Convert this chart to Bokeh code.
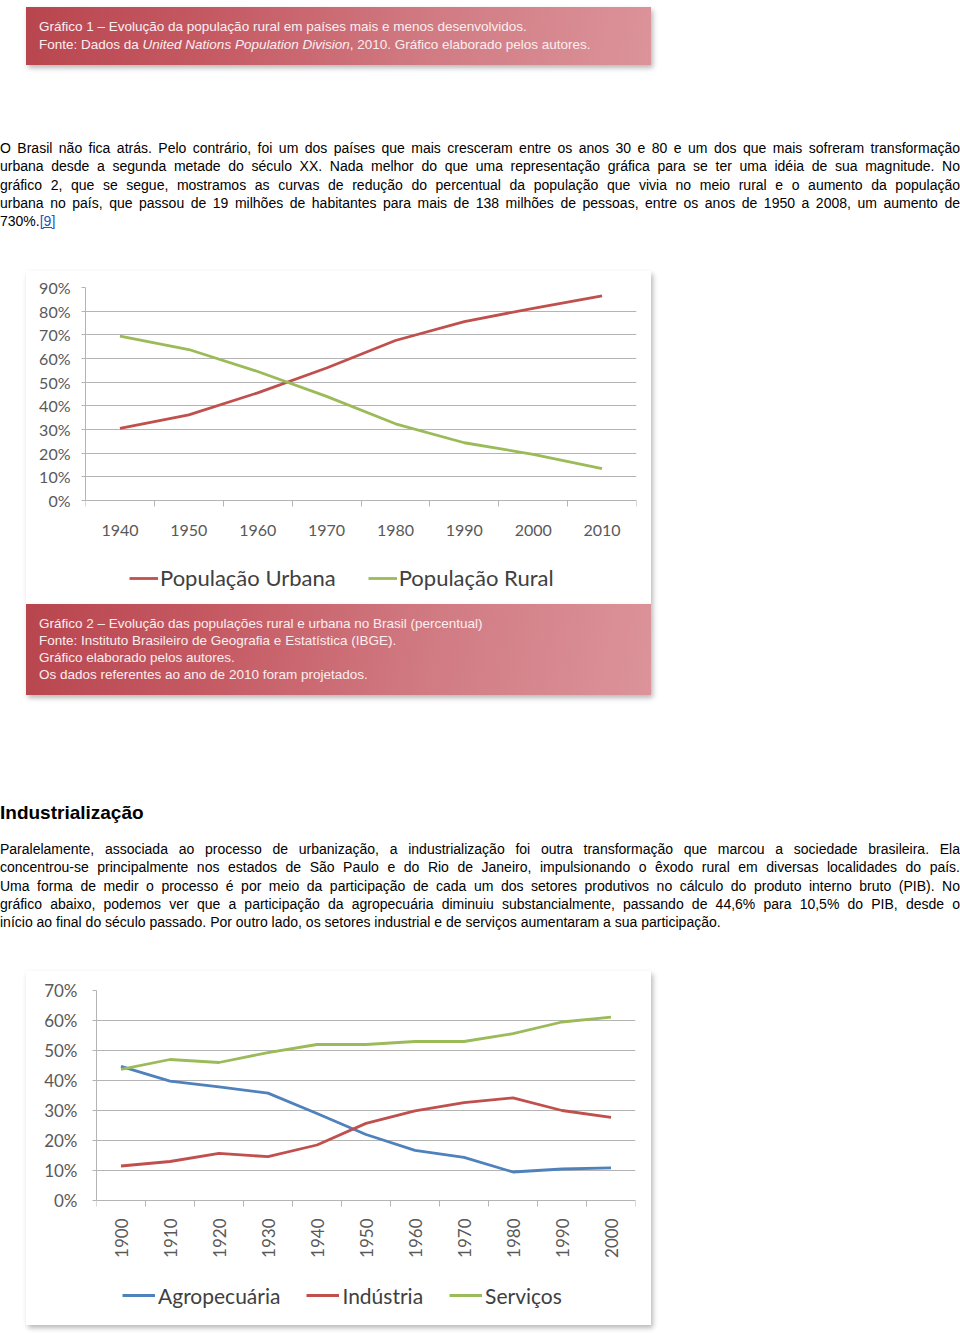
from bokeh.plotting import figure
from bokeh.models import Div, Range1d, FixedTicker, PrintfTickFormatter, Legend, LegendItem, Row
from bokeh.core.properties import value
from bokeh.layouts import column
from bokeh.embed import file_html
from bokeh.resources import INLINE
import math

# ---------------- data ----------------
years_pop = [1940, 1950, 1960, 1970, 1980, 1990, 2000, 2010]
pop_urbana = [30.5, 36.2, 45.5, 56.0, 67.6, 75.6, 81.2, 86.5]
pop_rural = [69.5, 63.8, 54.5, 44.0, 32.4, 24.4, 19.5, 13.5]
pop_ticks = [0, 10, 20, 30, 40, 50, 60, 70, 80, 90]

years_pib = [1900, 1910, 1920, 1930, 1940, 1950, 1960, 1970, 1980, 1990, 2000]
agropecuaria = [44.7, 39.8, 37.9, 35.8, 29.0, 22.0, 16.7, 14.4, 9.5, 10.5, 10.9]
industria = [11.5, 13.0, 15.7, 14.6, 18.5, 25.7, 29.9, 32.6, 34.2, 30.0, 27.7]
servicos = [43.7, 47.0, 46.0, 49.3, 52.0, 52.0, 53.0, 53.0, 55.6, 59.5, 61.1]
pib_ticks = [0, 10, 20, 30, 40, 50, 60, 70]

caption1 = ["Gráfico 1 – Evolução da população rural em países mais e menos desenvolvidos.",
            "Fonte: Dados da <i>United Nations Population Division</i>, 2010. Gráfico elaborado pelos autores."]
para1 = ["O Brasil não fica atrás. Pelo contrário, foi um dos países que mais cresceram entre os anos 30 e 80 e um dos que mais sofreram transformação",
         "urbana desde a segunda metade do século XX. Nada melhor do que uma representação gráfica para se ter uma idéia de sua magnitude. No",
         "gráfico 2, que se segue, mostramos as curvas de redução do percentual da população que vivia no meio rural e o aumento da população",
         "urbana no país, que passou de 19 milhões de habitantes para mais de 138 milhões de pessoas, entre os anos de 1950 a 2008, um aumento de",
         "730%.<a href='#' style='color:#2255bb;text-decoration:underline'>[9]</a>"]
caption2 = ["Gráfico 2 – Evolução das populações rural e urbana no Brasil (percentual)",
            "Fonte: Instituto Brasileiro de Geografia e Estatística (IBGE).",
            "Gráfico elaborado pelos autores.",
            "Os dados referentes ao ano de 2010 foram projetados."]
heading = "Industrialização"
para2 = ["Paralelamente, associada ao processo de urbanização, a industrialização foi outra transformação que marcou a sociedade brasileira. Ela",
         "concentrou-se principalmente nos estados de São Paulo e do Rio de Janeiro, impulsionando o êxodo rural em diversas localidades do país.",
         "Uma forma de medir o processo é por meio da participação de cada um dos setores produtivos no cálculo do produto interno bruto (PIB). No",
         "gráfico abaixo, podemos ver que a participação da agropecuária diminuiu substancialmente, passando de 44,6% para 10,5% do PIB, desde o",
         "início ao final do século passado. Por outro lado, os setores industrial e de serviços aumentaram a sua participação."]

RED = "#c0504d"
GREEN = "#9bbb59"
BLUE = "#4f81bd"
GRID = "#b4b4b4"
LABEL = "#595959"
FONT = "Lato"
SHADOW = {"box-shadow": "2px 3px 5px rgba(0,0,0,0.28)"}

GRAD = "linear-gradient(100deg, #b8454e 0%, #c55a63 30%, #d17b83 65%, #dc939a 100%)"


def caption_div(lines, height, top, pad_top, lh):
    inner = "".join(f"<div style='height:{lh}px;line-height:{lh}px'>{t}</div>" for t in lines)
    html = (f"<div style='width:625px;height:{height}px;box-sizing:border-box;padding:{pad_top}px 0 0 13px;"
            f"background:{GRAD};color:#fbeef0;font-family:\"Liberation Sans\",Arial,sans-serif;font-size:13.5px;"
            f"box-shadow:2px 3px 5px rgba(0,0,0,0.28)'>{inner}</div>")
    return Div(text=html, width=625, height=height, margin=(top, 0, 0, 26))


def para_div(lines, top):
    parts = []
    for i, t in enumerate(lines):
        last = i == len(lines) - 1
        al = "text-align:left" if last else "text-align:justify;text-align-last:justify"
        parts.append(f"<div style='{al};height:18.25px;line-height:18.25px'>{t}</div>")
    html = (f"<div style='width:960px;font-family:\"Liberation Sans\",Arial,sans-serif;font-size:14px;color:#000'>"
            + "".join(parts) + "</div>")
    return Div(text=html, width=960, height=92, margin=(top, 0, 0, 0))


def base_fig(n, ymax, yticks, fw, fh, plot_h, bl, br, bt, bb, font_px, ystand):
    # frame extends below the 0 line to host the category labels and the legend
    ymin = -ymax * (fh - plot_h) / plot_h
    p = figure(frame_width=fw, frame_height=fh, output_backend="svg", toolbar_location=None,
               x_range=Range1d(0, n), y_range=Range1d(ymin, ymax),
               min_border_left=bl, min_border_right=br, min_border_top=bt, min_border_bottom=bb,
               background_fill_color="white", border_fill_color="white")
    p.outline_line_color = None
    p.styles = SHADOW
    p.xgrid.grid_line_color = None
    p.ygrid.grid_line_color = GRID
    p.ygrid.grid_line_width = 1
    p.yaxis.ticker = FixedTicker(ticks=yticks)
    p.yaxis.bounds = (0, ymax)
    p.yaxis.formatter = PrintfTickFormatter(format="%d%%")
    p.yaxis.axis_line_color = GRID
    p.yaxis.major_tick_line_color = GRID
    p.yaxis.major_tick_out = 4
    p.yaxis.major_tick_in = 0
    p.yaxis.minor_tick_line_color = None
    p.yaxis.major_label_standoff = ystand
    p.yaxis.major_label_text_font = FONT
    p.yaxis.major_label_text_font_size = font_px
    p.yaxis.major_label_text_color = LABEL
    centers = [i + 0.5 for i in range(n)]
    bounds = [i for i in range(n + 1)]
    p.xaxis.fixed_location = 0
    p.xaxis.ticker = FixedTicker(ticks=[], minor_ticks=bounds)
    p.xaxis.axis_line_color = GRID
    p.xaxis.major_tick_line_color = None
    p.xaxis.major_tick_out = 0
    p.xaxis.major_tick_in = 0
    p.xaxis.minor_tick_line_color = GRID
    p.xaxis.minor_tick_out = 6
    p.xaxis.minor_tick_in = 0
    p.xaxis.major_label_standoff = 0
    return p, centers


def make_legend(items, loc, spacing, size, gw, standoff):
    return Legend(items=items, location=loc, orientation="horizontal",
                  glyph_width=gw, glyph_height=26, label_height=26, label_standoff=standoff, spacing=spacing,
                  padding=0, margin=0, border_line_color=None, background_fill_alpha=0,
                  label_text_font=FONT, label_text_font_size=size, label_text_color="#404040")


# ---------------- chart 2 ----------------
p2, c2 = base_fig(len(years_pop), 90, pop_ticks, 551, 307, 213, 59, 15, 16, 10, "16px", 11)
p2.text(x=c2, y=[0] * len(years_pop), text=[str(y) for y in years_pop], y_offset=30,
        text_align="center", text_baseline="middle", text_font=value(FONT),
        text_font_size="16px", text_color=LABEL)
r_urb = p2.line(c2, pop_urbana, line_color=RED, line_width=2.8)
r_rur = p2.line(c2, pop_rural, line_color=GREEN, line_width=2.8)
p2.add_layout(make_legend([LegendItem(label="População Urbana", renderers=[r_urb]),
                           LegendItem(label="População Rural", renderers=[r_rur])],
                          (44, 3), 32, "22px", 29, 2), "center")

# ---------------- chart 3 ----------------
p3, c3 = base_fig(len(years_pib), 70, pib_ticks, 539, 325, 210, 70, 16, 19, 10, "17px", 15)
p3.text(x=c3, y=[0] * len(years_pib), text=[str(y) for y in years_pib], y_offset=18, angle=math.pi / 2,
        text_align="right", text_baseline="middle", text_font=value(FONT),
        text_font_size="17px", text_color=LABEL)
r_ag = p3.line(c3, agropecuaria, line_color=BLUE, line_width=2.8)
r_in = p3.line(c3, industria, line_color=RED, line_width=2.8)
r_se = p3.line(c3, servicos, line_color=GREEN, line_width=2.8)
p3.add_layout(make_legend([LegendItem(label="Agropecuária", renderers=[r_ag]),
                           LegendItem(label="Indústria", renderers=[r_in]),
                           LegendItem(label="Serviços", renderers=[r_se])],
                          (26, 7), 26, "21px", 33, 3), "center")

# each chart sits in its own row so that the column does not align the two frames
box2 = Row(children=[p2], margin=(40, 0, 0, 26))
box3 = Row(children=[p3], margin=(39, 0, 0, 26))

head = Div(text=f"<div style='font-family:\"Liberation Sans\",Arial,sans-serif;font-weight:bold;font-size:19px;"
                f"line-height:24px;height:24px;color:#000'>{heading}</div>",
           width=960, height=24, margin=(106, 0, 0, 0))

layout = column(
    caption_div(caption1, 58, 7, 11, 18),
    para_div(para1, 74),
    box2,
    caption_div(caption2, 91, 0, 11, 17),
    head,
    para_div(para2, 15),
    box3,
    spacing=0,
)

html = file_html(layout, INLINE, title="chart")
html = html.replace("<body>", "<body style='margin:0;background:white'>", 1)
open("out.html", "w").write(html)
